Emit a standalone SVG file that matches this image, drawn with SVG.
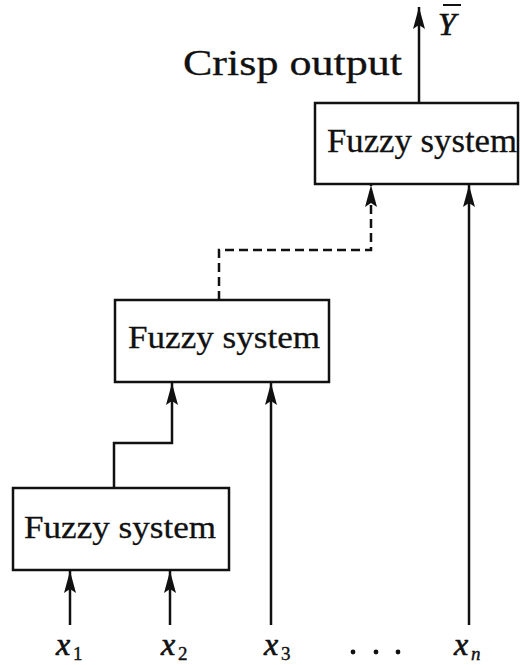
<svg xmlns="http://www.w3.org/2000/svg" width="520" height="665" viewBox="0 0 520 665">
<defs>
<marker id="arr" markerUnits="userSpaceOnUse" markerWidth="23" markerHeight="14" viewBox="0 0 23 14" refX="22" refY="7" orient="auto">
<path d="M22,7 L0,1 L4,7 L0,13 Z" fill="#111"/>
</marker>
<style>
.box{fill:#fff;stroke:#111;stroke-width:2.5}
.ln{fill:none;stroke:#111;stroke-width:2.5}
.dash{stroke-dasharray:9,5}
.lbl{font-family:"Liberation Serif","Times New Roman",serif;fill:#111;stroke:#111;stroke-width:0.3}
.var{font-family:"Liberation Serif","Times New Roman",serif;font-style:italic;fill:#111;stroke:#111;stroke-width:0.7;font-size:32px}
.sub{font-family:"Liberation Serif","Times New Roman",serif;fill:#111;stroke:#111;stroke-width:0.4;font-size:19px}
</style>
</defs>
<rect width="520" height="665" fill="#fff"/>
<g id="connectors">
<line class="ln" x1="419" y1="103" x2="419" y2="7" marker-end="url(#arr)"/>
<polyline class="ln dash" points="219,300 219,250 371,250 371,185" marker-end="url(#arr)"/>
<line class="ln" x1="469" y1="625" x2="469" y2="185" marker-end="url(#arr)"/>
<polyline class="ln" points="114,488 114,443 172,443 172,383" marker-end="url(#arr)"/>
<line class="ln" x1="271" y1="625" x2="271" y2="383" marker-end="url(#arr)"/>
<line class="ln" x1="70" y1="625" x2="70" y2="571" marker-end="url(#arr)"/>
<line class="ln" x1="170" y1="625" x2="170" y2="571" marker-end="url(#arr)"/>
</g>
<g id="top-system">
<rect class="box" x="315" y="103" width="203" height="81"/>
<text class="lbl" x="327" y="152" font-size="33" textLength="190" lengthAdjust="spacingAndGlyphs">Fuzzy system</text>
</g>
<g id="middle-system">
<rect class="box" x="115" y="300" width="214" height="82"/>
<text class="lbl" x="128" y="348" font-size="32" textLength="192" lengthAdjust="spacingAndGlyphs">Fuzzy system</text>
</g>
<g id="bottom-system">
<rect class="box" x="13" y="488" width="216" height="82"/>
<text class="lbl" x="24" y="538" font-size="32" textLength="192" lengthAdjust="spacingAndGlyphs">Fuzzy system</text>
</g>
<g id="output-label">
<text class="lbl" x="183" y="75" font-size="36" textLength="219" lengthAdjust="spacingAndGlyphs">Crisp output</text>
<text class="var" x="438" y="35" font-size="36">Y</text>
<line x1="443" y1="5" x2="461" y2="5" stroke="#111" stroke-width="2"/>
</g>
<g id="inputs">
<text class="var" x="56" y="655">x</text><text class="sub" x="73" y="660">1</text>
<text class="var" x="161" y="655">x</text><text class="sub" x="178" y="660">2</text>
<text class="var" x="264" y="655">x</text><text class="sub" x="281" y="660">3</text>
<circle cx="353" cy="652" r="2.4" fill="#111"/>
<circle cx="376" cy="652" r="2.4" fill="#111"/>
<circle cx="398" cy="652" r="2.4" fill="#111"/>
<text class="var" x="454" y="655">x</text><text class="sub" x="471" y="660" font-style="italic">n</text>
</g>
</svg>
